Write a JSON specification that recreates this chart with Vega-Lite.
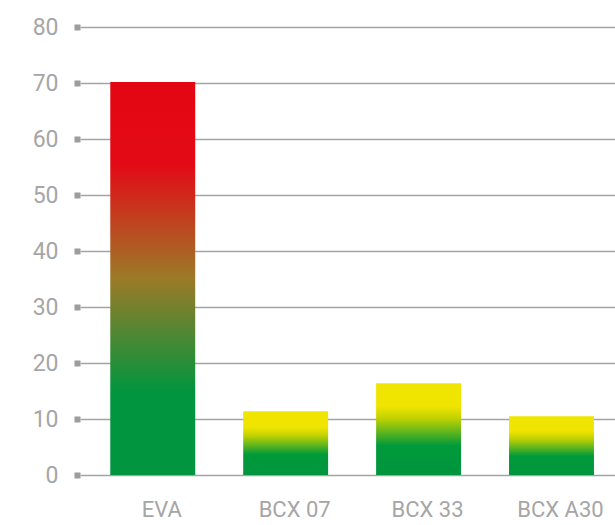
{
  "$schema": "https://vega.github.io/schema/vega-lite/v6.json",
  "width": 535,
  "height": 448,
  "autosize": "none",
  "padding": {"left": 80, "top": 27, "right": 0, "bottom": 50},
  "background": "white",
  "config": {
    "view": {"stroke": null},
    "font": "Roboto"
  },
  "data": {
    "values": [
      {"product": "EVA", "value": 70.2},
      {"product": "BCX 07", "value": 11.4},
      {"product": "BCX 33", "value": 16.4},
      {"product": "BCX A30", "value": 10.5}
    ]
  },
  "encoding": {
    "x": {
      "field": "product",
      "type": "nominal",
      "sort": null,
      "scale": {
        "domain": ["EVA", "BCX 07", "BCX 33", "BCX A30"],
        "paddingInner": 0.361,
        "paddingOuter": 0.193,
        "align": 0.59
      },
      "axis": {
        "title": null,
        "domain": false,
        "ticks": false,
        "labelAngle": 0,
        "labelFont": "Roboto",
        "labelFontSize": 22,
        "labelColor": "#a6a6a6",
        "labelPadding": 24,
        "labelOffset": 9
      }
    },
    "y": {
      "field": "value",
      "type": "quantitative",
      "scale": {"domain": [0, 80], "nice": false},
      "axis": {
        "title": null,
        "values": [0, 10, 20, 30, 40, 50, 60, 70, 80],
        "domain": false,
        "grid": true,
        "gridColor": "#a3a3a3",
        "gridWidth": 1.3,
        "tickSize": 6,
        "tickWidth": 6,
        "tickColor": "#9d9d9d",
        "labelFont": "Roboto",
        "labelFontSize": 23,
        "labelColor": "#a6a6a6",
        "labelPadding": 16
      }
    }
  },
  "layer": [
    {
      "transform": [{"filter": "datum.product === 'EVA'"}],
      "mark": {
        "type": "bar",
        "color": {
          "gradient": "linear",
          "x1": 0, "y1": 1, "x2": 0, "y2": 0,
          "stops": [
            {"offset": 0, "color": "#00953e"},
            {"offset": 0.21, "color": "#00953e"},
            {"offset": 0.5, "color": "#9c7a28"},
            {"offset": 0.79, "color": "#e30a16"},
            {"offset": 1, "color": "#e30613"}
          ]
        }
      }
    },
    {
      "transform": [{"filter": "datum.product !== 'EVA'"}],
      "mark": {
        "type": "bar",
        "color": {
          "gradient": "linear",
          "x1": 0, "y1": 1, "x2": 0, "y2": 0,
          "stops": [
            {"offset": 0, "color": "#00953e"},
            {"offset": 0.32, "color": "#009a3a"},
            {"offset": 0.62, "color": "#c2d200"},
            {"offset": 0.75, "color": "#f0e500"},
            {"offset": 1, "color": "#f0e500"}
          ]
        }
      }
    }
  ]
}
